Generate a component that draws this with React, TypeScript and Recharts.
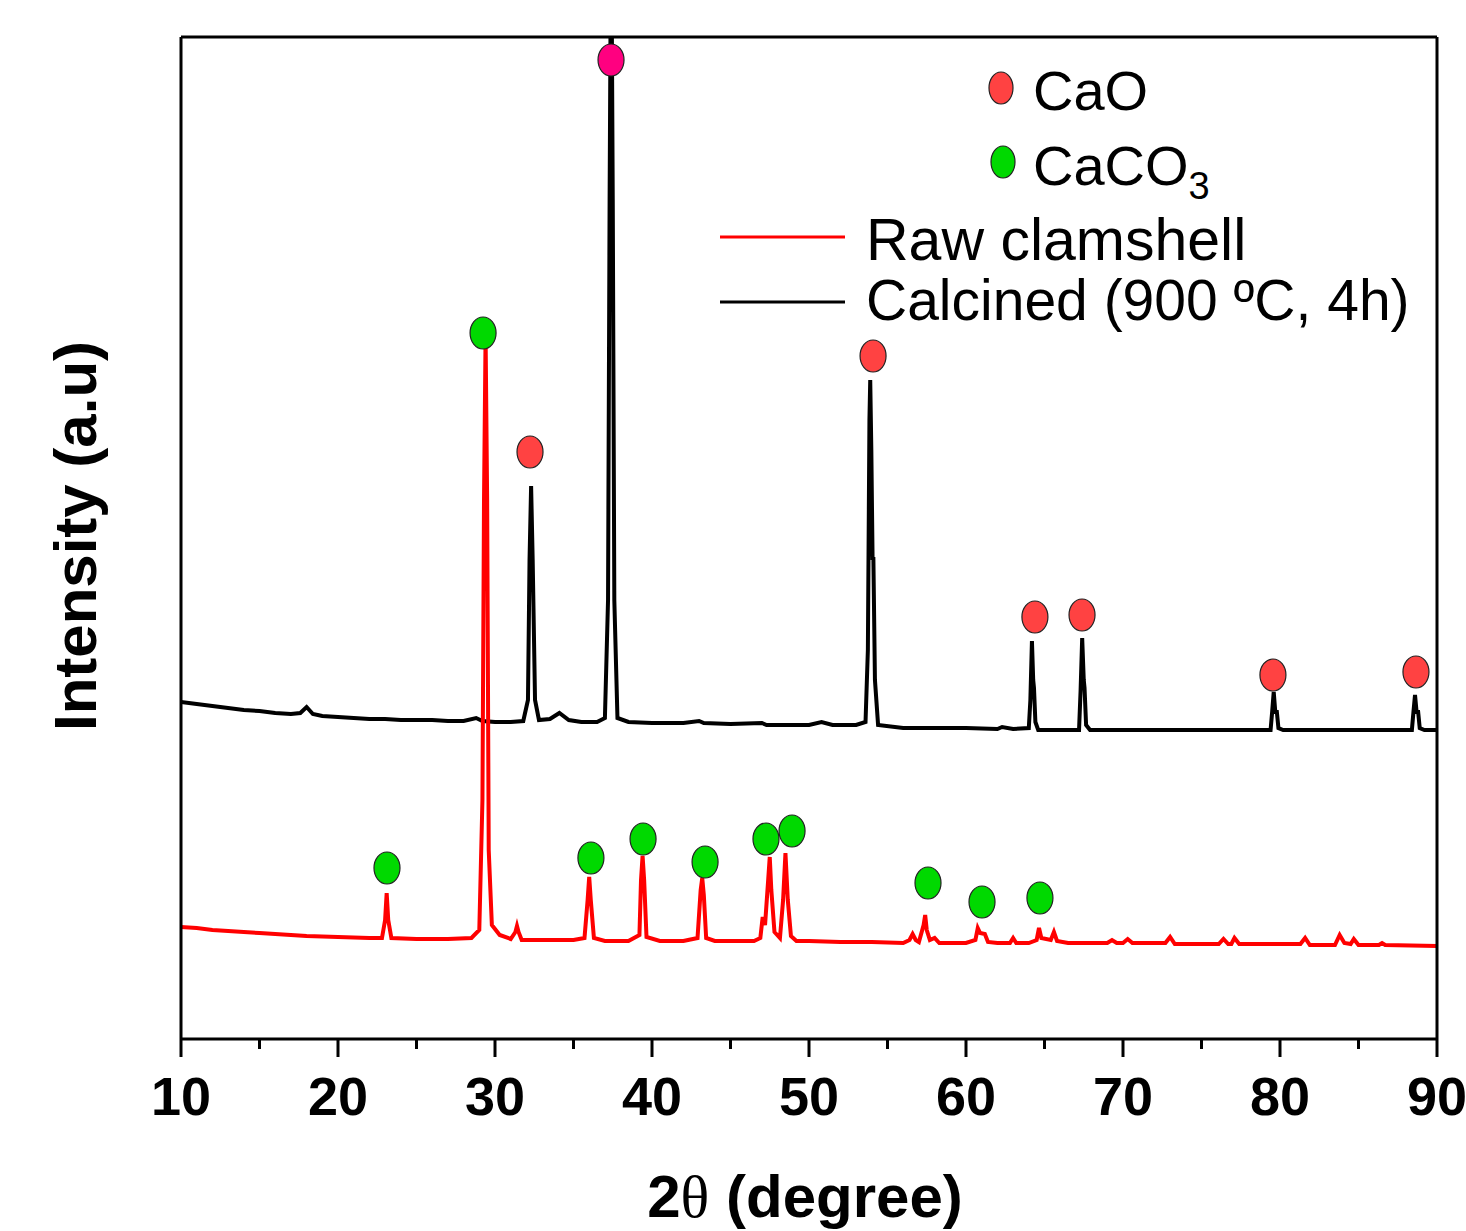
import React from "react"
import {
  ComposedChart, Line, Scatter, XAxis, YAxis,
} from "recharts"

// 2θ positions and intensities (a.u., arbitrary offset per pattern)
const calcinedX = [
  10, 11, 12, 13, 14, 15, 16, 17, 17.6, 18.0, 18.4, 19, 20, 21, 22, 23, 24, 25, 26, 27, 28,
  28.8, 29.2, 30, 31, 31.8, 32.1, 32.2, 32.3, 32.4, 32.55, 32.8, 33.5, 34.1, 34.7, 35.5, 36.5,
  37.0, 37.2, 37.3, 37.4, 37.5, 37.6, 37.8, 38.5, 40, 42, 43, 43.3, 45, 47, 47.3, 48, 50, 50.8,
  51.5, 53, 53.6, 53.75, 53.85, 53.9, 53.97, 54.05, 54.1, 54.2, 54.4, 56, 58, 60, 62, 62.3, 63,
  64.0, 64.1, 64.2, 64.28, 64.33, 64.42, 64.6, 66, 67.2, 67.3, 67.4, 67.5, 67.55, 67.65, 67.9,
  70, 75, 79.4, 79.5, 79.6, 79.7, 79.8, 79.9, 80.2, 85, 88.4, 88.5, 88.6, 88.7, 88.8, 88.9, 89.2, 90,
]
const calcinedY = [
  337, 335, 333, 331, 329, 328, 326, 325, 326, 332, 325, 323, 322, 321, 320, 320, 319, 319, 319, 318, 318,
  321, 318, 317, 317, 318, 339, 479, 553, 479, 339, 319, 320, 326, 319, 317, 317,
  321, 439, 839, 1139, 839, 439, 321, 317, 316, 316, 318, 316, 315, 316, 314, 314, 314, 317,
  314, 314, 317, 389, 619, 659, 589, 479, 482, 359, 314, 311, 311, 311, 310, 312, 310,
  311, 339, 398, 359, 351, 317, 309, 309, 309, 349, 401, 359, 351, 314, 309,
  309, 309, 309, 327, 347, 327, 327, 311, 309, 309, 309, 327, 344, 327, 327, 311, 309, 309,
]

const rawX = [
  10, 11, 12, 13, 14, 15, 16, 17, 18, 20, 22, 22.8, 23.0, 23.1, 23.2, 23.4, 25, 27, 28.5, 29.0,
  29.2, 29.3, 29.4, 29.5, 29.6, 29.8, 30.3, 31.0, 31.3, 31.4, 31.5, 31.7, 33, 35, 35.7, 35.9, 36.0,
  36.1, 36.3, 37, 38.5, 39.2, 39.3, 39.4, 39.5, 39.65, 40.5, 42, 42.9, 43.1, 43.2, 43.3, 43.45, 44,
  46.5, 46.9, 47.05, 47.2, 47.4, 47.5, 47.6, 47.8, 48.15, 48.35, 48.5, 48.65, 48.85, 49.2, 50, 52,
  54, 56, 56.4, 56.6, 56.8, 57.0, 57.3, 57.4, 57.5, 57.7, 58.0, 58.3, 60, 60.6, 60.75, 60.9, 61.2,
  61.4, 62, 62.8, 63.0, 63.2, 64, 64.5, 64.65, 64.8, 65.4, 65.6, 65.8, 66.5, 68, 69.0, 69.3, 69.6,
  70.0, 70.3, 70.6, 72.7, 73.0, 73.3, 76.1, 76.4, 76.7, 76.9, 77.1, 77.4, 81.3, 81.6, 81.9,
  83.5, 83.8, 84.1, 84.5, 84.7, 85.0, 86.3, 86.5, 86.7, 90,
]
const rawY = [
  112, 111, 109, 108, 107, 106, 105, 104, 103, 102, 101, 101, 119, 146, 119, 101, 100, 100, 101, 109,
  239, 539, 704, 539, 189, 114, 104, 100, 107, 113, 107, 99, 99, 99, 101, 139, 162,
  139, 101, 98, 98, 104, 159, 183, 159, 102, 98, 98, 101, 149, 161, 144, 101, 98,
  98, 101, 122, 114, 159, 182, 149, 107, 101, 139, 186, 139, 103, 98, 98, 97,
  97, 96, 99, 105, 99, 97, 114, 124, 109, 99, 101, 96, 96, 99, 111, 106, 105,
  97, 96, 96, 101, 96, 96, 99, 111, 101, 99, 107, 98, 96, 96, 96, 99, 96,
  96, 100, 96, 96, 102, 95, 95, 100, 95, 95, 101, 95, 95, 101, 94,
  94, 104, 96, 95, 100, 94, 94, 96, 94, 93,
]

// phase markers (2θ, height)
const caoX = [32.23, 54.08, 64.39, 67.39, 79.55, 88.66]
const caoY = [587, 683, 422, 424, 364, 367]
const mainCaoX = [37.39]
const mainCaoY = [979]
const caco3X = [23.12, 29.24, 36.11, 39.43, 43.38, 47.26, 48.92, 57.58, 61.02, 64.71]
const caco3Y = [171, 706, 181, 200, 177, 200, 208, 156, 137, 141]

const xTicks = [10, 15, 20, 25, 30, 35, 40, 45, 50, 55, 60, 65, 70, 75, 80, 85, 90]

const zip = (xs: number[], ys: number[]) => xs.map((x, i) => ({ x, y: ys[i] }))

const calcined = zip(calcinedX, calcinedY)
const raw = zip(rawX, rawY)
const cao = zip(caoX, caoY)
const mainCao = zip(mainCaoX, mainCaoY)
const caco3 = zip(caco3X, caco3Y)

const FONT = "'Liberation Sans', Arial, sans-serif"
const AXIS = { stroke: "#000", strokeWidth: 3 }

const ellipse = (fill: string) => (p: any) => (
  <ellipse cx={p.cx} cy={p.cy} rx={13} ry={16} fill={fill} stroke="#222" strokeWidth={1.2} />
)

const XTick = (p: any) => {
  const v = p.payload.value
  const major = v % 10 === 0
  return (
    <g>
      <line x1={p.x} x2={p.x} y1={p.y} y2={p.y + (major ? 18 : 10)} stroke="#000" strokeWidth={3} />
      {major && (
        <text x={p.x} y={p.y + 76} textAnchor="middle" fontSize={54} fontWeight="bold" fontFamily={FONT} fill="#000">
          {v}
        </text>
      )}
    </g>
  )
}

export default function App() {
  return (
    <div style={{ position: "absolute", left: 0, top: 0, width: 1466, height: 1231, background: "#fff" }}>
      <ComposedChart width={1466} height={1231} margin={{ top: 36, right: 28, bottom: 191, left: 180 }}>
        <XAxis xAxisId={0} type="number" dataKey="x" domain={[10, 90]} ticks={xTicks} interval={0}
          height={1} tickSize={0} tickMargin={0} tick={<XTick />} tickLine={false}
          axisLine={AXIS} allowDataOverflow />
        <XAxis xAxisId="top" orientation="top" type="number" domain={[10, 90]} height={1}
          tick={false} tickLine={false} axisLine={AXIS} />
        <YAxis yAxisId={0} type="number" domain={[0, 1002]} width={1} tick={false} tickLine={false}
          axisLine={AXIS} allowDataOverflow />
        <YAxis yAxisId="right" orientation="right" type="number" domain={[0, 1002]} width={1}
          tick={false} tickLine={false} axisLine={AXIS} />

        <Line data={calcined} dataKey="y" type="linear" stroke="#000" strokeWidth={4} dot={false} isAnimationActive={false} />
        <Line data={raw} dataKey="y" type="linear" stroke="#ff0000" strokeWidth={4} dot={false} isAnimationActive={false} />

        <Scatter data={cao} dataKey="y" shape={ellipse("#ff4242")} isAnimationActive={false} />
        <Scatter data={mainCao} dataKey="y" shape={ellipse("#ff0080")} isAnimationActive={false} />
        <Scatter data={caco3} dataKey="y" shape={ellipse("#00d900")} isAnimationActive={false} />
      </ComposedChart>

      <svg width={1466} height={1231} style={{ position: "absolute", left: 0, top: 0, pointerEvents: "none" }}>
        <g fontFamily={FONT} fill="#000">
          <ellipse cx={1001} cy={88} rx={12} ry={16} fill="#ff4242" stroke="#222" strokeWidth={1.2} />
          <text x={1033} y={110} fontSize={56}>CaO</text>
          <ellipse cx={1003} cy={162} rx={12} ry={16} fill="#00d900" stroke="#222" strokeWidth={1.2} />
          <text x={1033} y={185} fontSize={56}>
            CaCO<tspan fontSize={38} dy={14}>3</tspan>
          </text>
          <line x1={720} x2={845} y1={237} y2={237} stroke="#ff0000" strokeWidth={3} />
          <text x={866} y={260} fontSize={59}>Raw clamshell</text>
          <line x1={720} x2={845} y1={302} y2={302} stroke="#000" strokeWidth={3} />
          <text x={866} y={320} fontSize={57}>Calcined (900 ºC, 4h)</text>

          <text x={805} y={1217} textAnchor="middle" fontSize={60} fontWeight="bold">
            2<tspan fontFamily="'Liberation Serif', serif" fontWeight="normal">θ</tspan> (degree)
          </text>
          <text x={96} y={536} textAnchor="middle" fontSize={60} fontWeight="bold" transform="rotate(-90, 96, 536)">
            Intensity (a.u)
          </text>
        </g>
      </svg>
    </div>
  )
}
